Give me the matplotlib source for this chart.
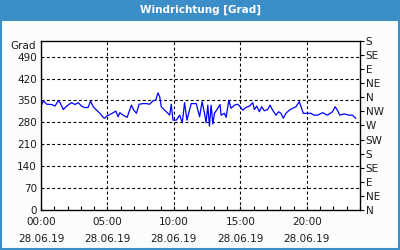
import matplotlib
matplotlib.use("Agg")
import matplotlib.pyplot as plt
from matplotlib.patches import Rectangle
from matplotlib.ticker import MultipleLocator

# wind direction readings, hours since 00:00 on 28.06.19
hours = [0.0, 0.18, 0.43, 0.8, 1.05, 1.3, 1.43, 1.68, 1.93, 2.3, 2.55, 2.8, 3.05, 3.3,
         3.55, 3.73, 3.93, 4.18, 4.43, 4.68, 4.8, 4.93, 5.18, 5.43, 5.63, 5.8, 5.93,
         6.18, 6.48, 6.8, 6.98, 7.18, 7.38, 7.68, 7.93, 8.18, 8.43, 8.63, 8.8, 8.93,
         9.05, 9.3, 9.55, 9.68, 9.8, 9.93, 10.18, 10.43, 10.63, 10.8, 10.98, 11.3,
         11.68, 11.93, 12.12, 12.3, 12.42, 12.55, 12.67, 12.8, 12.93, 13.05, 13.3,
         13.47, 13.55, 13.8, 13.93, 14.13, 14.3, 14.55, 14.8, 14.98, 15.18, 15.43,
         15.68, 15.93, 16.05, 16.23, 16.43, 16.6, 16.8, 17.05, 17.23, 17.43, 17.68,
         17.88, 18.05, 18.23, 18.43, 18.68, 18.93, 19.18, 19.43, 19.55, 19.73, 19.93,
         20.3, 20.55, 20.8, 21.18, 21.55, 21.93, 22.13, 22.3, 22.48, 22.8, 23.18,
         23.43, 23.68]
grad = [330, 349, 338, 337, 332, 349, 343, 321, 332, 343, 337, 343, 332, 327,
        328, 348, 330, 319, 309, 296, 293, 300, 305, 311, 316, 298, 311,
        303, 296, 335, 319, 309, 338, 340, 340, 338, 349, 351, 374, 362,
        330, 319, 309, 303, 338, 287, 287, 303, 279, 343, 287, 340,
        340, 298, 346, 309, 279, 335, 268, 335, 275, 309, 325,
        337, 303, 309, 296, 351, 325, 335, 338, 330, 319, 328,
        332, 343, 321, 332, 314, 330, 317, 321, 335, 319, 303,
        314, 309, 293, 309, 319, 325, 330, 346, 332, 309, 309,
        309, 303, 303, 311, 303, 314, 330, 319, 303, 307, 303,
        303, 293]

x_ticks = [0, 5, 10, 15, 20]
x_labels = ["00:00\n28.06.19", "05:00\n28.06.19", "10:00\n28.06.19",
            "15:00\n28.06.19", "20:00\n28.06.19"]
compass = ["N", "NE", "E", "SE", "S", "SW", "W", "NW", "N", "NE", "E", "SE", "S"]

blue = "#3c8ec8"
txt = "#1a1a1a"
fs = 7.5

fig = plt.figure(figsize=(4, 2.5), dpi=100, facecolor="#fbfdfb")
# title bar and frame
fig.patches.append(Rectangle((0, 0.918), 1, 0.082, transform=fig.transFigure,
                             facecolor=blue, edgecolor="none", zorder=0))
fig.patches.append(Rectangle((0.002, 0.003), 0.996, 0.994, transform=fig.transFigure,
                             facecolor="none", edgecolor=blue, lw=1.5, zorder=1))
fig.text(0.5, 0.96, "Windrichtung [Grad]", color="white", fontsize=fs,
         fontweight="bold", ha="center", va="center")

ax = fig.add_axes([0.1025, 0.16, 0.7975, 0.676])
ax.set_facecolor("white")
ax.plot(hours, grad, color="#0000ff", lw=0.9)
ax.set_xlim(0, 24)
ax.set_ylim(0, 540)

ax.set_xticks(x_ticks)
ax.set_xticklabels(x_labels, fontsize=fs, color=txt, linespacing=1.9)
ax.xaxis.set_minor_locator(MultipleLocator(1))
ax.set_yticks(range(0, 491, 70))
ax.set_yticklabels([str(v) for v in range(0, 491, 70)], fontsize=fs, color=txt)
ax.tick_params(axis="x", which="both", direction="in", length=3, width=0.8, pad=5)
ax.tick_params(axis="y", length=0, pad=3)
ax.grid(True, which="major", color="black", lw=0.8, linestyle=(0, (2.6, 2.2)))
for s in ax.spines.values():
    s.set_color("black")
    s.set_linewidth(0.9)

ax2 = ax.twinx()
ax2.set_ylim(0, 540)
ax2.set_yticks(range(0, 541, 45))
ax2.set_yticklabels(compass, fontsize=fs, color=txt)
ax2.tick_params(axis="y", direction="out", length=3, width=0.8, pad=1)

ax.text(-0.015, 1.0, "Grad", transform=ax.transAxes, fontsize=fs, color=txt,
        ha="right", va="top")

fig.savefig("out.png", dpi=100, facecolor=fig.get_facecolor())
